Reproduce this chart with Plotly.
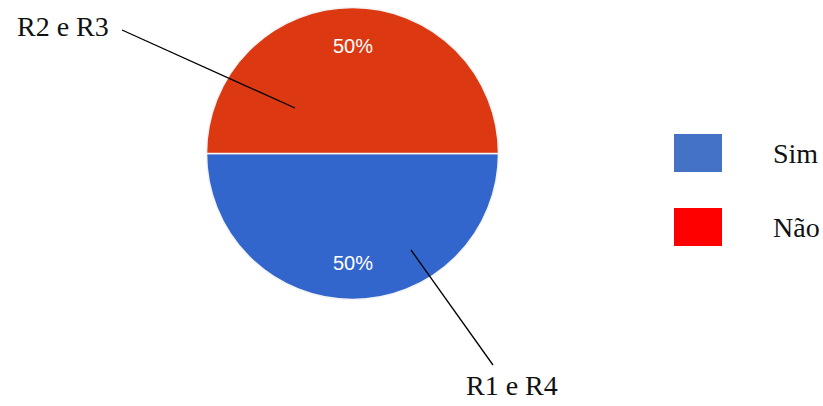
import plotly.graph_objects as go

labels = ["Sim", "Não"]
values = [50, 50]
pie_colors = ["#3366CC", "#DC3912"]
legend_colors = ["#4472C4", "#FF0000"]
callouts = ["R1 e R4", "R2 e R3"]

W, H = 823, 406

def px(x):
    return x / W

def py(y):
    return 1 - y / H

cx, cy, D = 352.5, 153.5, 292

fig = go.Figure()
fig.add_trace(go.Pie(
    labels=labels,
    values=values,
    sort=False,
    direction="clockwise",
    rotation=90,
    marker=dict(colors=pie_colors, line=dict(color="#f4f4f4", width=1.5)),
    textinfo="none",
    showlegend=False,
    hoverinfo="label+percent",
    domain=dict(x=[px(cx - D / 2), px(cx + D / 2)], y=[py(cy + D / 2), py(cy - D / 2)]),
))

shapes = []
annotations = []
serif = dict(family="Times New Roman", size=28, color="#111111")
sans_white = dict(family="Liberation Sans", size=20, color="white")

total = sum(values)
pct_y = [263, 46]
for i, v in enumerate(values):
    annotations.append(dict(text=f"{round(100 * v / total)}%", xref="paper", yref="paper",
                            x=px(cx), y=py(pct_y[i]), xanchor="center", yanchor="middle",
                            showarrow=False, font=sans_white))

shapes.append(dict(type="line", xref="paper", yref="paper",
                   x0=px(122), y0=py(30), x1=px(295), y1=py(108),
                   line=dict(color="black", width=1.3)))
shapes.append(dict(type="line", xref="paper", yref="paper",
                   x0=px(411), y0=py(250), x1=px(493), y1=py(365),
                   line=dict(color="black", width=1.3)))
annotations.append(dict(text=callouts[1], xref="paper", yref="paper",
                        x=px(63), y=py(27), xanchor="center", yanchor="middle",
                        showarrow=False, font=serif))
annotations.append(dict(text=callouts[0], xref="paper", yref="paper",
                        x=px(512), y=py(385), xanchor="center", yanchor="middle",
                        showarrow=False, font=serif))

leg_y = [153, 227]
for i, lab in enumerate(labels):
    shapes.append(dict(type="rect", xref="paper", yref="paper",
                       x0=px(674), x1=px(722), y0=py(leg_y[i] - 19), y1=py(leg_y[i] + 19),
                       fillcolor=legend_colors[i], line=dict(width=0)))
    annotations.append(dict(text=lab, xref="paper", yref="paper",
                            x=px(771), y=py(leg_y[i]), xanchor="left", yanchor="middle",
                            showarrow=False, font=serif))

fig.update_layout(
    width=W, height=H,
    margin=dict(l=0, r=0, t=0, b=0),
    paper_bgcolor="white",
    plot_bgcolor="white",
    font=dict(family="Times New Roman"),
    shapes=shapes,
    annotations=annotations,
)

fig.write_html("out.html")
